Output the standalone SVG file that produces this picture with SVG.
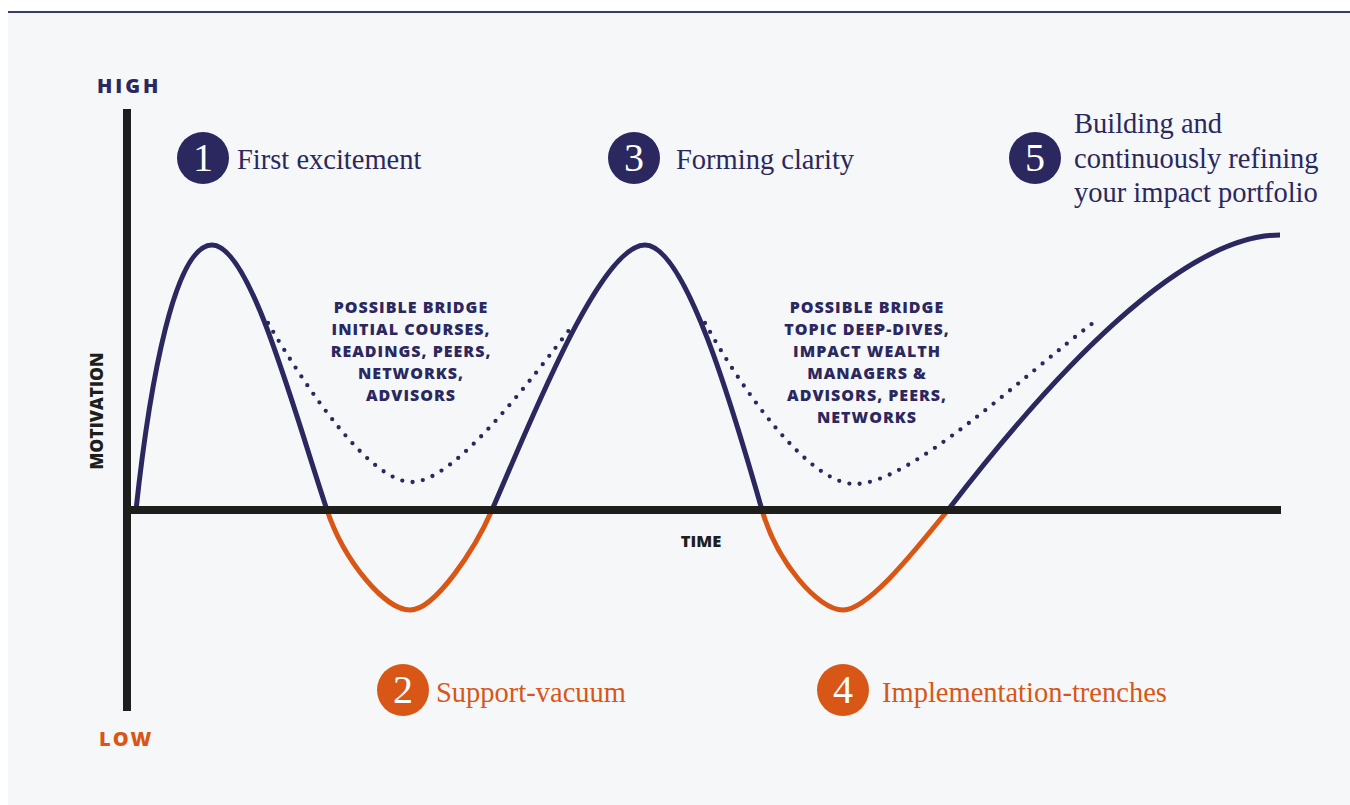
<svg xmlns="http://www.w3.org/2000/svg" width="1350" height="805" viewBox="0 0 1350 805">
  <defs>
    <style>
      .bg { fill: #f6f7f9; }
      .axis { stroke: #1e1e1c; stroke-width: 8; fill: none; stroke-linecap: butt; }
      .navy { stroke: #2b2860; stroke-width: 5; fill: none; stroke-linecap: round; }
      .orange { stroke: #d95716; stroke-width: 5; fill: none; stroke-linecap: round; }
      .dots { stroke: #2b2860; stroke-width: 4.3; fill: none; stroke-linecap: round; stroke-dasharray: 0 10.5; }
      .cnavy { fill: #2b2860; }
      .corange { fill: #d95716; }
      .num { font-family: "Liberation Serif", "DejaVu Serif", serif; font-size: 40px; fill: #ffffff; text-anchor: middle; }
      .lbl { font-family: "Liberation Serif", "DejaVu Serif", serif; font-size: 28.5px; }
      .tnavy { fill: #2b2860; }
      .torange { fill: #d95716; }
      .bridge { font-family: "Open Sans", "Liberation Sans", sans-serif; font-weight: 800; font-size: 16px; letter-spacing: 1px; fill: #2b2860; text-anchor: middle; }
      .axlbl { font-family: "Open Sans", "Liberation Sans", sans-serif; font-weight: 800; }
    </style>
  </defs>

  <rect x="0" y="0" width="1350" height="805" fill="#ffffff"/>
  <rect class="bg" x="8" y="13" width="1342" height="792"/>
  <rect x="8" y="11" width="1342" height="2" fill="#3c3a6e"/>

  <g id="connectors">
    <path class="dots" d="M268,323 C308,391 370,482 412,482 C455,482 533,377 573,325"/>
    <path class="dots" d="M705,323 C745,395 810,484 855,484 C910,484 1023,376 1093,323"/>
    <path class="navy" d="M136,510 C150,380 175,245 212,245 C250,245 292,405 327,510"/>
    <path class="orange" d="M327,510 C344,561 385,610 410,610 C435,610 475,549 492,510"/>
    <path class="navy" d="M492,510 C530,423 600,245 645,245 C685,245 732,405 762,510"/>
    <path class="orange" d="M762,510 C777,562 818,610 843,610 C870,610 923,540 948,510"/>
    <path class="navy" d="M948,510 C1048,380 1180,235 1280,235" style="stroke-linecap:butt"/>
  </g>

  <g id="axes">
    <line class="axis" x1="127" y1="109" x2="127" y2="711"/>
    <line class="axis" x1="123" y1="510" x2="1281" y2="510"/>
  </g>

  <g id="axis-labels">
    <text class="axlbl" x="97" y="93" font-size="20" letter-spacing="3" fill="#2b2860">HIGH</text>
    <text class="axlbl" x="99" y="746" font-size="20" letter-spacing="2" fill="#d95716">LOW</text>
    <text class="axlbl" x="701" y="547" font-size="16.5" text-anchor="middle" fill="#1e1e1c">TIME</text>
    <text class="axlbl" x="0" y="0" font-size="17.5" text-anchor="middle" fill="#1e1e1c" transform="translate(102.5,411) rotate(-90)">MOTIVATION</text>
  </g>

  <g id="stage1">
    <circle class="cnavy" cx="203" cy="158" r="26"/>
    <text class="num" x="203" y="171">1</text>
    <text class="lbl tnavy" x="237" y="169">First excitement</text>
  </g>

  <g id="stage2">
    <circle class="corange" cx="403" cy="690" r="26"/>
    <text class="num" x="403" y="703">2</text>
    <text class="lbl torange" x="436" y="702">Support-vacuum</text>
  </g>

  <g id="stage3">
    <circle class="cnavy" cx="634" cy="158" r="26"/>
    <text class="num" x="634" y="171">3</text>
    <text class="lbl tnavy" x="676" y="169">Forming clarity</text>
  </g>

  <g id="stage4">
    <circle class="corange" cx="843" cy="690" r="26"/>
    <text class="num" x="843" y="703">4</text>
    <text class="lbl torange" x="882" y="702">Implementation-trenches</text>
  </g>

  <g id="stage5">
    <circle class="cnavy" cx="1035" cy="158" r="26"/>
    <text class="num" x="1035" y="171">5</text>
    <text class="lbl tnavy" x="1074" y="133">Building and</text>
    <text class="lbl tnavy" x="1074" y="168">continuously refining</text>
    <text class="lbl tnavy" x="1074" y="202">your impact portfolio</text>
  </g>

  <g id="bridge1">
    <text class="bridge" x="411" y="313">POSSIBLE BRIDGE</text>
    <text class="bridge" x="411" y="335">INITIAL COURSES,</text>
    <text class="bridge" x="411" y="357">READINGS, PEERS,</text>
    <text class="bridge" x="411" y="379">NETWORKS,</text>
    <text class="bridge" x="411" y="401">ADVISORS</text>
  </g>

  <g id="bridge2">
    <text class="bridge" x="867" y="313">POSSIBLE BRIDGE</text>
    <text class="bridge" x="867" y="335">TOPIC DEEP-DIVES,</text>
    <text class="bridge" x="867" y="357">IMPACT WEALTH</text>
    <text class="bridge" x="867" y="379">MANAGERS &amp;</text>
    <text class="bridge" x="867" y="401">ADVISORS, PEERS,</text>
    <text class="bridge" x="867" y="423">NETWORKS</text>
  </g>
</svg>
